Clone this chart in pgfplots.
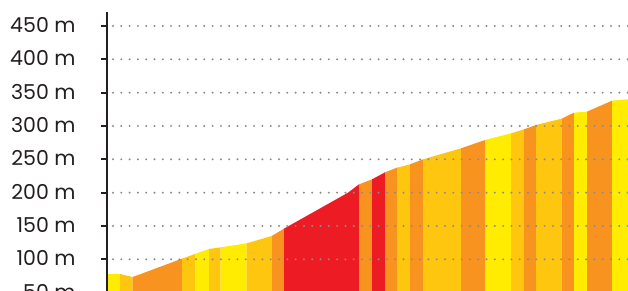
\documentclass[border=0pt]{standalone}
\usepackage{pgfplots}
\pgfplotsset{compat=1.18}
\usepackage{fontspec}
\setmainfont{Poppins}
\definecolor{cyel}{HTML}{FFEC00}
\definecolor{cgold}{HTML}{FFC60F}
\definecolor{corg}{HTML}{F7931E}
\definecolor{cred}{HTML}{ED1C24}
\definecolor{ctext}{HTML}{231F20}
\definecolor{cgrid}{HTML}{8C8C8C}
\begin{document}
\begin{tikzpicture}
\path[use as bounding box, clip] (0pt,35pt) rectangle (628pt,326pt);
\begin{axis}[
  at={(107pt,0pt)}, anchor=south west,
  scale only axis, width=521pt, height=314pt,
  xmin=107, xmax=628, ymin=0, ymax=471,
  axis x line=none, axis y line=left,
  axis line style={-, line width=2pt, ctext},
  ytick={0,50,...,450},
  yticklabels={0 m,50 m,100 m,150 m,200 m,250 m,300 m,350 m,400 m,450 m},
  ytick pos=left, tick align=outside,
  major tick length=6pt,
  tick style={line width=2pt, ctext},
  yticklabel style={anchor=east, xshift=-22pt, yshift=1pt, font=\fontsize{20.5}{24}\selectfont, text=ctext},
  ymajorgrids,
  major grid style={cgrid, line width=2.2pt, line cap=round, dash pattern=on 0pt off 8.3pt, dash phase=2.3pt},
  axis on top,
]
\addplot[fill=cyel, draw=none] coordinates {(107,78) (120,78)} \closedcycle;
\addplot[fill=cgold, draw=none] coordinates {(120,78) (132.7,73.5)} \closedcycle;
\addplot[fill=corg, draw=none] coordinates {(132.7,73.5) (182,101)} \closedcycle;
\addplot[fill=cgold, draw=none] coordinates {(182,101) (195,108)} \closedcycle;
\addplot[fill=cyel, draw=none] coordinates {(195,108) (209,115.5)} \closedcycle;
\addplot[fill=cgold, draw=none] coordinates {(209,115.5) (220.7,118)} \closedcycle;
\addplot[fill=cyel, draw=none] coordinates {(220.7,118) (246.7,124)} \closedcycle;
\addplot[fill=cgold, draw=none] coordinates {(246.7,124) (271.7,135)} \closedcycle;
\addplot[fill=corg, draw=none] coordinates {(271.7,135) (284,146)} \closedcycle;
\addplot[fill=cred, draw=none] coordinates {(284,146) (348,200) (359,212.5)} \closedcycle;
\addplot[fill=corg, draw=none] coordinates {(359,212.5) (372,220)} \closedcycle;
\addplot[fill=cred, draw=none] coordinates {(372,220) (385,230.5)} \closedcycle;
\addplot[fill=corg, draw=none] coordinates {(385,230.5) (397,237.5)} \closedcycle;
\addplot[fill=cgold, draw=none] coordinates {(397,237.5) (410,242.5)} \closedcycle;
\addplot[fill=corg, draw=none] coordinates {(410,242.5) (423,250)} \closedcycle;
\addplot[fill=cgold, draw=none] coordinates {(423,250) (461,266.5)} \closedcycle;
\addplot[fill=corg, draw=none] coordinates {(461,266.5) (485,279)} \closedcycle;
\addplot[fill=cyel, draw=none] coordinates {(485,279) (511,289)} \closedcycle;
\addplot[fill=cgold, draw=none] coordinates {(511,289) (524,295)} \closedcycle;
\addplot[fill=corg, draw=none] coordinates {(524,295) (536,301.5)} \closedcycle;
\addplot[fill=cgold, draw=none] coordinates {(536,301.5) (561.7,311)} \closedcycle;
\addplot[fill=corg, draw=none] coordinates {(561.7,311) (574,320)} \closedcycle;
\addplot[fill=cyel, draw=none] coordinates {(574,320) (587,321.5)} \closedcycle;
\addplot[fill=corg, draw=none] coordinates {(587,321.5) (612,338)} \closedcycle;
\addplot[fill=cyel, draw=none] coordinates {(612,338) (628,340)} \closedcycle;
\end{axis}
\end{tikzpicture}
\end{document}
